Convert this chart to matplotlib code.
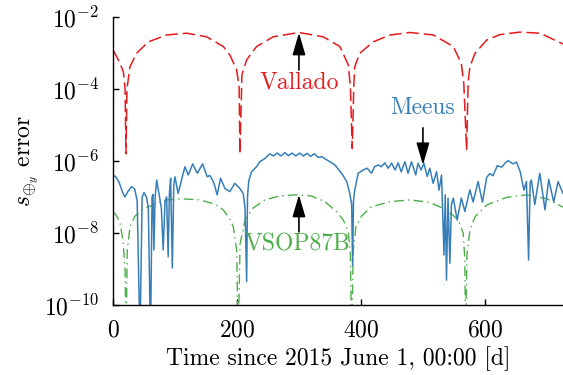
import numpy as np
import matplotlib
matplotlib.use("Agg")
import matplotlib.pyplot as plt
from matplotlib.ticker import FixedLocator, LogFormatterSciNotation, NullLocator

plt.rcParams['font.family'] = 'serif'
plt.rcParams['font.serif'] = ['cmr10', 'DejaVu Serif']
plt.rcParams['mathtext.fontset'] = 'cm'
plt.rcParams['axes.formatter.use_mathtext'] = True
plt.rcParams['axes.unicode_minus'] = False
plt.rcParams['lines.scale_dashes'] = False

# ---- data (log10 of error) ----
vallado_t = [0, 6, 11.3, 16.7, 19.5, 21, 22.5, 27.4, 38, 57, 86.6, 118.8, 151, 178, 188.7,
             199.5, 203.5, 204.8, 208, 215.6, 231.7, 258.5, 300, 339, 366, 379.6, 383, 386,
             388.5, 390, 398, 420, 446.8, 479, 516.7, 549, 562, 566, 570.5, 573, 575.8, 584,
             603, 624, 656, 689, 726]
vallado_log = [-2.92, -3.1, -3.29, -3.52, -4.0, -5.8, -4.0, -3.38, -3.01, -2.69, -2.50, -2.45,
               -2.55, -2.82, -3.06, -3.47, -3.94, -5.8, -3.6, -3.19, -2.82, -2.55, -2.43, -2.55,
               -2.82, -3.33, -3.94, -5.65, -3.9, -3.38, -3.01, -2.69, -2.50, -2.43, -2.50, -2.82,
               -3.29, -3.86, -5.7, -3.8, -3.38, -3.01, -2.64, -2.49, -2.42, -2.45, -2.75]

meeus_t = [0, 5, 10, 15, 19, 24, 30, 35, 39, 43.5, 47, 50, 54, 57, 60.5, 63, 64.5, 66, 68, 70.5,
           75, 78, 81, 84, 86.5, 89, 91, 93, 95.7, 98, 100, 105, 110.5, 116, 121.5, 128.5, 136,
           144.5, 152, 156, 159, 163, 168, 173.5, 180.5, 188.5, 196.5, 204.5, 210, 213, 215.6,
           217, 219, 223.5, 231.5, 237, 245, 253, 259, 265, 271, 277, 283, 289, 295, 301, 307,
           313, 319, 325, 331, 337, 343, 350, 358, 366, 371, 377, 382, 385, 386.6, 388, 390,
           395.5, 403.5, 410, 417, 422, 428, 433, 438.5, 444, 449.5, 455, 460, 465, 471, 476,
           481.5, 488.5, 492, 497, 501.5, 507, 511, 516.5, 522, 526, 530, 534, 536, 538, 540.5,
           543.5, 546, 549, 555.3, 562, 567.7, 575.8, 581, 589, 596, 603, 608, 613, 620, 627,
           633, 637.5, 645.5, 651, 657, 663, 667, 670.5, 673, 675, 680.5, 688.5, 697, 703, 711,
           718, 726]
meeus_log = [-6.38, -6.45, -6.6, -6.85, -7.0, -6.85, -6.71, -6.78, -7.1, -11, -7.0, -6.88, -7.0,
             -7.3, -11, -7.0, -6.93, -8.47, -7.0, -6.53, -7.0, -7.3, -8.47, -7.1, -7.0, -8.66,
             -6.9, -6.48, -8.97, -6.7, -6.44, -6.9, -6.53, -6.16, -6.39, -6.08, -6.34, -6.08,
             -6.44, -6.40, -6.48, -6.62, -6.94, -6.48, -6.76, -6.85, -6.62, -6.76, -6.90, -7.3,
             -9.35, -7.0, -6.55, -6.30, -6.16, -6.02, -5.93, -5.80, -5.86, -5.78, -5.86, -5.77,
             -5.85, -5.78, -5.86, -5.78, -5.86, -5.79, -5.87, -5.80, -5.90, -5.88, -5.95, -6.02,
             -6.11, -6.28, -6.40, -6.57, -6.9, -7.2, -8.9, -7.1, -6.81, -6.34, -6.25, -6.2, -6.34,
             -6.16, -6.11, -6.16, -6.05, -6.2, -6.06, -6.25, -6.05, -6.30, -6.02, -6.34, -6.02,
             -6.39, -6.06, -6.25, -6.06, -6.43, -6.2, -6.62, -6.3, -6.81, -6.39, -8.61, -6.94,
             -9.31, -7.03, -8.84, -7.2, -7.03, -7.64, -7.03, -7.4, -6.80, -7.14, -6.57, -7.14,
             -6.45, -6.35, -6.41, -6.13, -6.17, -6.05, -5.99, -6.08, -6.03, -6.30, -6.81, -6.57,
             -8.75, -6.6, -6.53, -7.21, -6.34, -7.36, -6.51, -7.14, -6.57, -6.9]

vsop_t = [0, 5, 11, 16, 19.5, 21, 23, 27.4, 35.5, 48.9, 64.5, 86.6, 111, 140, 165, 178, 188, 194,
          199.5, 202, 205, 213, 226, 245, 269, 293.5, 320, 342, 360.8, 371.5, 379.6, 383, 385,
          387.5, 392, 401, 417, 446.8, 479, 511, 532, 548, 557, 565, 567.5, 569, 571, 576, 584,
          603, 635, 667, 700, 726]
vsop_log = [-7.41, -7.5, -7.69, -8.2, -9.0, -11, -8.5, -7.83, -7.53, -7.33, -7.22, -7.08, -7.05,
            -7.08, -7.2, -7.36, -7.6, -7.82, -8.47, -11, -8.3, -7.64, -7.31, -7.08, -6.97, -6.94,
            -6.97, -7.13, -7.41, -7.64, -7.96, -8.6, -11, -8.5, -7.82, -7.53, -7.27, -7.13, -7.08,
            -7.15, -7.31, -7.5, -7.64, -8.0, -8.7, -11, -8.6, -7.9, -7.55, -7.22, -7.01, -6.94,
            -7.05, -7.28]

yticks = [1e-10, 1e-8, 1e-6, 1e-4, 1e-2]
xticks = [0, 200, 400, 600]

c_red = '#e41a1c'
c_blue = '#377eb8'
c_green = '#4daf4a'

fig = plt.figure(figsize=(5.63, 3.75), dpi=100)
ax = fig.add_axes([113/563, 1 - 305/375, 1 - 113/563, (305 - 17)/375])

ax.plot(vsop_t, 10 ** np.array(vsop_log), color=c_green, lw=1.0, dashes=(7, 3, 1, 3))
ax.plot(meeus_t, 10 ** np.array(meeus_log), color=c_blue, lw=1.1)
ax.plot(vallado_t, 10 ** np.array(vallado_log), color=c_red, lw=1.1, dashes=(9, 3.5))

ax.set_yscale('log')
ax.set_ylim(1e-10, 1e-2)
ax.set_xlim(0, 726)
ax.yaxis.set_major_locator(FixedLocator(yticks))
ax.yaxis.set_minor_locator(NullLocator())
ax.yaxis.set_major_formatter(LogFormatterSciNotation())
ax.set_xticks(xticks)

for s in ['top', 'right']:
    ax.spines[s].set_visible(False)
for s in ['left', 'bottom']:
    ax.spines[s].set_linewidth(1.0)
ax.tick_params(direction='in', length=4, width=1.0, labelsize=17)
ax.tick_params(axis='x', pad=10)
ax.tick_params(axis='y', pad=10)

ax.set_xlabel('Time since 2015 June 1, 00:00 [d]', fontsize=17, labelpad=4)
ax.set_ylabel(r'$s_{\oplus_y}$ error', fontsize=17, labelpad=2)

arrow = dict(arrowstyle='-|>,head_length=0.75,head_width=0.22', color='k', lw=1.2,
             shrinkA=0, shrinkB=0, mutation_scale=18)
ax.annotate('', xy=(300, 10 ** -2.44), xytext=(300, 10 ** -3.47), arrowprops=arrow)
ax.text(300, 10 ** -3.83, 'Vallado', color=c_red, fontsize=17, ha='center', va='center')

ax.annotate('', xy=(500, 10 ** -6.11), xytext=(500, 10 ** -5.08), arrowprops=arrow)
ax.text(500, 10 ** -4.53, 'Meeus', color=c_blue, fontsize=17, ha='center', va='center')

ax.annotate('', xy=(300, 10 ** -6.94), xytext=(300, 10 ** -7.97), arrowprops=arrow)
ax.text(297, 10 ** -8.33, 'VSOP87B', color=c_green, fontsize=17, ha='center', va='center')

fig.savefig('out.png', dpi=100)
